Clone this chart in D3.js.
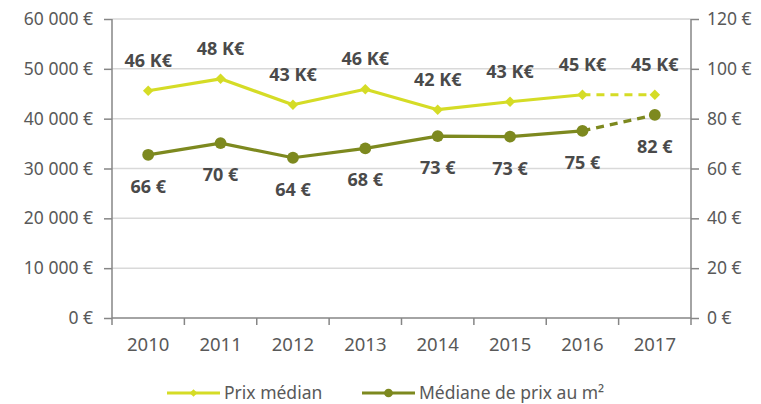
<!DOCTYPE html>
<html>
<head>
<meta charset="utf-8">
<script src="https://cdnjs.cloudflare.com/ajax/libs/d3/7.8.5/d3.min.js"></script>
<style>
  body { margin: 0; background: #fff; }
  svg text { font-family: "Noto Sans", sans-serif; }
</style>
</head>
<body>
<svg id="chart" width="761" height="404"></svg>
<script>
// data
var years = ["2010", "2011", "2012", "2013", "2014", "2015", "2016", "2017"];
var prixMedian = [45600, 48000, 42800, 45900, 41800, 43400, 44800, 44800];
var prixLabels = ["46 K€", "48 K€", "43 K€", "46 K€", "42 K€", "43 K€", "45 K€", "45 K€"];
var prixM2 = [65.5, 70.2, 64.3, 68.1, 73.0, 72.8, 75.1, 81.5];
var m2Labels = ["66 €", "70 €", "64 €", "68 €", "73 €", "73 €", "75 €", "82 €"];
var leftTicks = [0, 10000, 20000, 30000, 40000, 50000, 60000];
var rightTicks = [0, 20, 40, 60, 80, 100, 120];
var seriesNames = ["Prix médian", "Médiane de prix au m²"];

var colPrix = "#d5dc26", colM2 = "#7d891f";
var gridCol = "#d9d9d9", axisCol = "#868686", txtCol = "#595959", lblCol = "#4a4a4a";

var svg = d3.select("#chart");
var pLeft = 112, pRight = 691, pTop = 19, pBottom = 318;

var x = d3.scaleBand().domain(years).range([pLeft, pRight]);
var yL = d3.scaleLinear().domain([0, 60000]).range([pBottom, pTop]);
var yR = d3.scaleLinear().domain([0, 120]).range([pBottom, pTop]);

function fmt(v) { // "60 000 €" style
    return (v >= 1000 ? Math.floor(v / 1000) + " " + d3.format("03")(v % 1000) : v) + " €";
}

// gridlines
svg.append("g").selectAll("line").data(leftTicks.slice(1)).enter().append("line")
    .attr("x1", pLeft).attr("x2", pRight)
    .attr("y1", function(d){ return yL(d); }).attr("y2", function(d){ return yL(d); })
    .attr("stroke", gridCol).attr("stroke-width", 1.5);

// axes
var axL = svg.append("g").attr("transform", "translate(" + pLeft + ",0)")
    .call(d3.axisLeft(yL).tickValues(leftTicks).tickSize(8).tickPadding(11).tickFormat(fmt));
var axR = svg.append("g").attr("transform", "translate(" + pRight + ",0)")
    .call(d3.axisRight(yR).tickValues(rightTicks).tickSize(8).tickPadding(8).tickFormat(function(d){ return d + " €"; }));
var axB = svg.append("g").attr("transform", "translate(0," + pBottom + ")")
    .call(d3.axisBottom(x).tickSize(0).tickPadding(20));
// x ticks sit between the categories
axB.selectAll(".sep").data(d3.range(years.length + 1)).enter().append("line")
    .attr("x1", function(i){ return pLeft + i * x.step(); })
    .attr("x2", function(i){ return pLeft + i * x.step(); })
    .attr("y1", 0).attr("y2", 7);

[axL, axR, axB].forEach(function(a){
    a.select(".domain").remove();
    a.selectAll("line").attr("stroke", axisCol).attr("stroke-width", 1.5);
    a.selectAll("text").attr("fill", txtCol).style("font-size", "17.5px");
});
axB.selectAll("text").style("font-size", "18.5px");

// frame: left, right and bottom axis lines
[[pLeft, pTop, pLeft, pBottom], [pRight, pTop, pRight, pBottom], [pLeft, pBottom, pRight, pBottom]].forEach(function(s){
    svg.append("line").attr("x1", s[0]).attr("y1", s[1]).attr("x2", s[2]).attr("y2", s[3])
        .attr("stroke", axisCol).attr("stroke-width", 1.5);
});

function cx(d, i){ return x(years[i]) + x.bandwidth() / 2; }

function drawSeries(vals, scale, col, marker) {
    var pts = vals.map(function(v, i){ return [cx(v, i), scale(v)]; });
    var line = d3.line();
    var n = pts.length;
    svg.append("path").attr("d", line(pts.slice(0, n - 1)))
        .attr("fill", "none").attr("stroke", col).attr("stroke-width", 3.2).attr("stroke-linejoin", "round");
    svg.append("path").attr("d", line(pts.slice(n - 2)))
        .attr("fill", "none").attr("stroke", col).attr("stroke-width", 3.2).attr("stroke-dasharray", "8,6");
    // diamonds are squares turned 45 degrees
    svg.append("g").selectAll("path").data(pts).enter().append("path")
        .attr("transform", function(p){ return "translate(" + p[0] + "," + p[1] + ")" + (marker === "diamond" ? " rotate(45)" : ""); })
        .attr("d", marker === "diamond" ? d3.symbol().type(d3.symbolSquare).size(55) : d3.symbol().type(d3.symbolCircle).size(110))
        .attr("fill", col);
}

drawSeries(prixMedian, yL, colPrix, "diamond");
drawSeries(prixM2, yR, colM2, "circle");

// value labels
svg.append("g").selectAll("text").data(prixMedian).enter().append("text")
    .attr("x", cx).attr("y", function(d){ return yL(d) - 24; })
    .attr("text-anchor", "middle").attr("fill", lblCol)
    .style("font-size", "18px").style("font-weight", "bold")
    .text(function(d, i){ return prixLabels[i]; });
svg.append("g").selectAll("text").data(prixM2).enter().append("text")
    .attr("x", cx).attr("y", function(d){ return yR(d) + 38; })
    .attr("text-anchor", "middle").attr("fill", lblCol)
    .style("font-size", "18px").style("font-weight", "bold")
    .text(function(d, i){ return m2Labels[i]; });

// legend
var legend = [[167, colPrix, "diamond"], [362, colM2, "circle"]];
legend.forEach(function(l, i){
    var g = svg.append("g").attr("transform", "translate(" + l[0] + ",393)");
    g.append("line").attr("x1", 0).attr("x2", 53).attr("stroke", l[1]).attr("stroke-width", 3);
    g.append("path").attr("transform", "translate(26.5,0)" + (l[2] === "diamond" ? " rotate(45)" : ""))
        .attr("d", l[2] === "diamond" ? d3.symbol().type(d3.symbolSquare).size(30) : d3.symbol().type(d3.symbolCircle).size(60))
        .attr("fill", l[1]);
    g.append("text").attr("x", 57).attr("y", 6).attr("fill", txtCol)
        .style("font-size", "17.5px").text(seriesNames[i]);
});
</script>
</body>
</html>
